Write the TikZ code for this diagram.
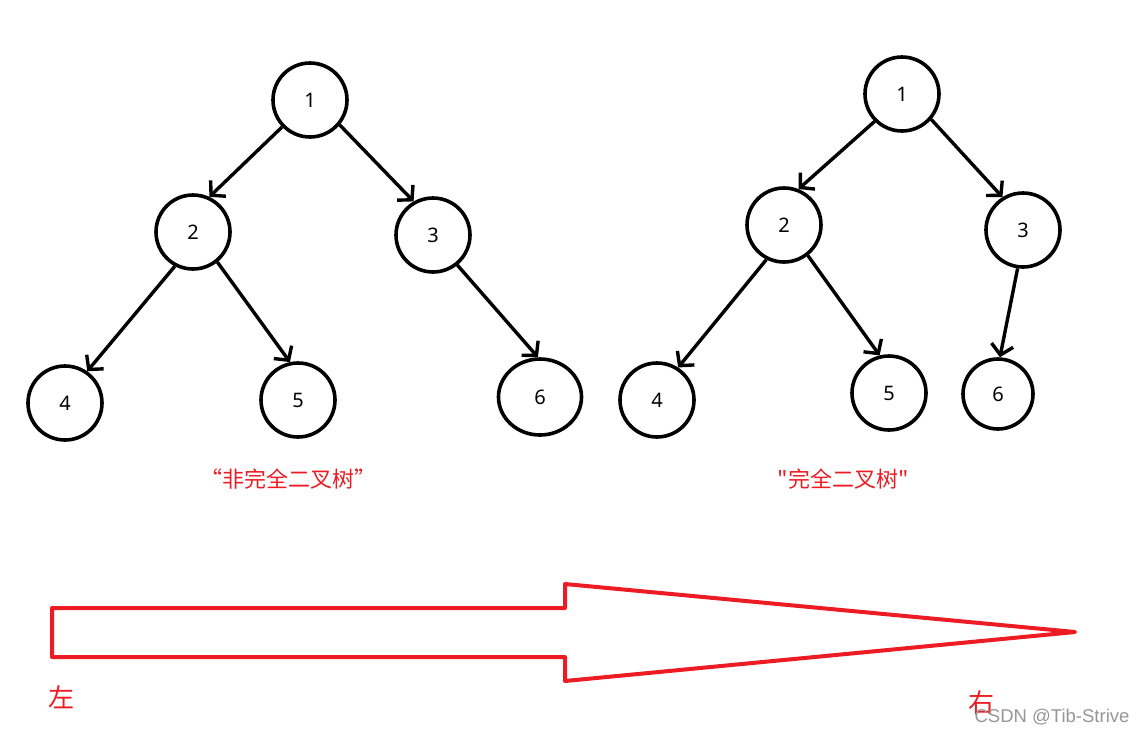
\documentclass[tikz,border=0pt]{standalone}
\usepackage{fontspec}
\setmainfont{Noto Sans}
\newfontfamily\cjk{Noto Sans CJK SC}
\newfontfamily\wmfont{Liberation Sans}
\usetikzlibrary{arrows.meta,shapes.geometric}
\definecolor{redline}{RGB}{237,28,36}
\definecolor{wmgray}{RGB}{150,150,150}
\tikzset{
  tnode/.style={draw=black, line width=3.6pt, circle, minimum size=74pt, inner sep=0pt, font=\fontsize{20}{24}\selectfont},
  enode/.style={draw=black, line width=3.6pt, ellipse, minimum width=83pt, minimum height=76pt, inner sep=0pt, font=\fontsize{20}{24}\selectfont},
  edge/.style={draw=black, line width=3.4pt, -{Straight Barb[length=10pt,width=22pt,line width=3.4pt]}},
  redlabel/.style={text=redline, font=\cjk\fontsize{22}{26}\selectfont},
}
\begin{document}
\begin{tikzpicture}[x=1pt,y=-1pt]
\useasboundingbox (0,0) rectangle (1143,734);
% left tree
\node[tnode] (a1) at (310,100) {1};
\node[tnode] (a2) at (193,232) {2};
\node[tnode] (a3) at (433,235) {3};
\node[tnode] (a4) at (65,403) {4};
\node[tnode] (a5) at (298,400) {5};
\node[enode] (a6) at (540,397) {6};
\draw[edge] (a1.224) -- (a2.65);
\draw[edge] (a1.-40) -- (a3.120);
\draw[edge] (a2.-118) -- (a4.55);
\draw[edge] (a2.-51) -- (a5.102);
\draw[edge] (a3.-51) -- (a6.93);
% right tree
\node[tnode] (b1) at (902,94) {1};
\node[tnode] (b2) at (784,225) {2};
\node[tnode] (b3) at (1023,230) {3};
\node[tnode] (b4) at (657,400) {4};
\node[tnode] (b5) at (889,393) {5};
\node[tnode, minimum size=70pt] (b6) at (998,394) {6};
\draw[edge] (b1.225) -- (b2.68);
\draw[edge] (b1.-41) -- (b3.122);
\draw[edge] (b2.-117) -- (b4.57);
\draw[edge] (b2.-52) -- (b5.104);
\draw[edge] (b3.-98) -- (b6.87);
% labels
\node[redlabel] (l1) at (288,479) {“非完全二叉树”};
\node[redlabel] (l2) at (843,479) {"完全二叉树"};
% big arrow
\draw[redline, line width=4pt, line join=round]
  (52,608) -- (565,608) -- (565,584) -- (1075,632) -- (565,681) -- (565,657) -- (52,657) -- cycle;
\node[redlabel, font=\cjk\fontsize{26}{30}\selectfont] (left) at (61,697) {左};
\node[redlabel, font=\cjk\fontsize{26}{30}\selectfont] (right) at (981,703) {右};
\node[text=wmgray, font=\wmfont\fontsize{18.5}{22}\selectfont] (wm) at (1052,717) {CSDN @Tib-Strive};
\end{tikzpicture}
\end{document}
